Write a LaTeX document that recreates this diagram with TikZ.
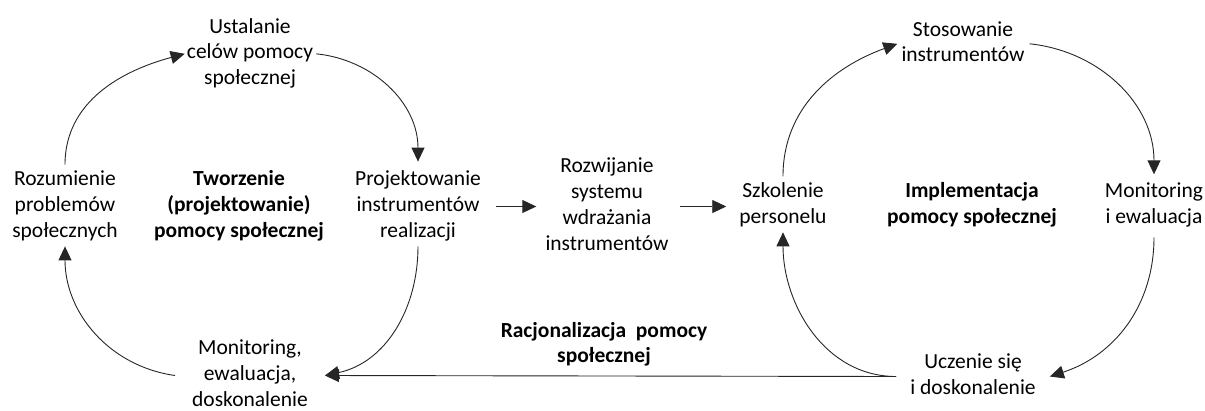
\documentclass[tikz,border=0pt]{standalone}
\usepackage{fontspec}
\setmainfont{Carlito}
\usetikzlibrary{arrows.meta}
\begin{document}
\begin{tikzpicture}[x=1pt,y=1pt,
  lbl/.style={align=center,inner sep=1pt,font=\fontsize{21.5}{25.8}\selectfont},
  blbl/.style={lbl,font=\fontsize{21.5}{25.8}\selectfont\bfseries},
  conn/.style={line width=0.9pt,draw=black!85,-{Triangle[length=14pt,width=13pt]}},
  plain/.style={line width=0.9pt,draw=black!85}]
\path[use as bounding box] (0,0) rectangle (1205,-410);
% left cycle
\node[lbl] (ust) at (250,-53.8) {\strut Ustalanie\\\strut celów pomocy\\\strut społecznej};
\node[lbl] (roz) at (65,-206.5) {\strut Rozumienie\\\strut problemów\\\strut społecznych};
\node[blbl] (two) at (239,-206.5) {\strut Tworzenie\\\strut (projektowanie)\\\strut pomocy społecznej};
\node[lbl] (proj) at (418,-206.5) {\strut Projektowanie\\\strut instrumentów\\\strut realizacji};
\node[lbl,inner xsep=17pt] (mon) at (250,-375.5) {\strut Monitoring,\\\strut ewaluacja,\\\strut doskonalenie};
% middle
\node[lbl] (rozw) at (607,-206.5) {\strut Rozwijanie\\\strut systemu\\\strut wdrażania\\\strut instrumentów};
\node[blbl] (rac) at (604,-344.8) {\strut Racjonalizacja~ pomocy\\\strut społecznej};
% right cycle
\node[lbl] (sto) at (963,-43.8) {\strut Stosowanie\\\strut instrumentów};
\node[lbl] (szk) at (783,-205.3) {\strut Szkolenie\\\strut personelu};
\node[blbl] (imp) at (972,-205.3) {\strut Implementacja\\\strut pomocy społecznej};
\node[lbl] (mon2) at (1154,-205.3) {\strut Monitoring\\\strut i ewaluacja};
\node[lbl,inner xsep=14pt] (ucz) at (973,-376.5) {\strut Uczenie się\\\strut i doskonalenie};
% left cycle connectors
\draw[conn] ([yshift=2pt]roz.north) to[out=90,in=195] ([xshift=-1pt]ust.west);
\draw[conn] ([xshift=2pt]ust.east) to[out=-6,in=90] ([yshift=5pt]proj.north);
\draw[conn] (proj.south) to[out=-90,in=12] (mon.east);
\draw[conn] (mon.west) to[out=172,in=-90] (roz.south);
% middle arrows
\draw[conn] ([xshift=14pt]proj.east) -- ([xshift=-8pt]rozw.west);
\draw[conn] ([xshift=10pt]rozw.east) -- ([xshift=-12pt]szk.west |- rozw.east);
% right cycle connectors
\draw[conn] ([yshift=2pt]szk.north) to[out=90,in=200] ([xshift=-3pt]sto.west);
\draw[conn] ([xshift=4pt]sto.east) to[out=-6,in=90] ([yshift=4pt]mon2.north);
\draw[conn] ([yshift=-5pt]mon2.south) to[out=-90,in=18] (ucz.east);
\draw[conn] (ucz.west) to[out=180,in=-90] (szk.south);
\draw[conn] (ucz.west) -- (mon.east);
\end{tikzpicture}
\end{document}
